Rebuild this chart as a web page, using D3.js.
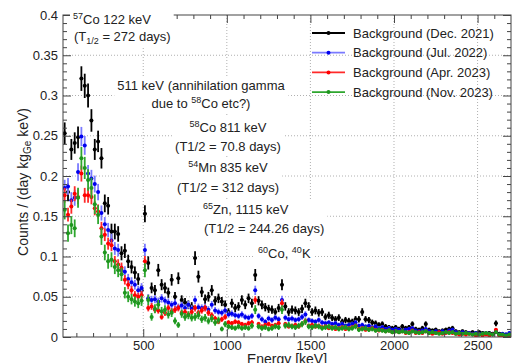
<!DOCTYPE html>
<html>
<head>
<meta charset="utf-8">
<script src="https://cdn.jsdelivr.net/npm/d3@7"></script>
<style>
body { margin: 0; background: #fff; }
text { font-family: "Liberation Sans", Arial, Helvetica, sans-serif; fill: #222; }
</style>
</head>
<body>
<script>
// bin centres, 20 keV wide
var energies = d3.range(30, 2700, 20);

var dec2021 = [
  0.253,0.180,0.233,0.241,0.248,0.321,0.312,0.300,0.269,0.233,
  0.243,0.222,0.166,0.163,0.131,0.131,0.128,0.104,0.107,0.094,
  0.087,0.080,0.072,0.058,0.153,0.092,0.061,0.058,0.083,0.065,
  0.061,0.055,0.071,0.050,0.073,0.046,0.043,0.040,0.038,0.098,
  0.075,0.056,0.047,0.050,0.058,0.045,0.048,0.044,0.040,0.031,
  0.042,0.036,0.038,0.046,0.040,0.048,0.042,0.077,0.045,0.040,
  0.037,0.035,0.034,0.031,0.036,0.065,0.038,0.031,0.034,0.033,
  0.031,0.035,0.042,0.038,0.031,0.033,0.030,0.031,0.025,0.027,
  0.024,0.022,0.024,0.019,0.021,0.020,0.019,0.022,0.022,0.031,
  0.022,0.021,0.018,0.017,0.015,0.016,0.013,0.012,0.011,0.012,
  0.010,0.013,0.011,0.012,0.016,0.010,0.009,0.011,0.016,0.009,
  0.008,0.009,0.007,0.008,0.009,0.010,0.011,0.007,0.006,0.007,
  0.006,0.005,0.006,0.005,0.006,0.005,0.004,0.005,0.004,0.017,
  0.004,0.003,0.003,0.003
];
var jul2022 = [
  0.185,0.187,0.170,0.173,0.205,0.249,0.238,0.203,0.197,0.190,
  0.180,0.154,0.140,0.133,0.120,0.110,0.108,0.083,0.081,0.072,
  0.068,0.065,0.058,0.061,0.108,0.048,0.046,0.047,0.044,0.048,
  0.045,0.043,0.040,0.042,0.037,0.039,0.036,0.040,0.035,0.046,
  0.037,0.036,0.037,0.034,0.040,0.033,0.031,0.030,0.033,0.028,
  0.029,0.027,0.026,0.028,0.025,0.024,0.026,0.058,0.026,0.022,
  0.019,0.023,0.021,0.024,0.022,0.046,0.024,0.022,0.023,0.021,
  0.022,0.025,0.028,0.021,0.020,0.019,0.021,0.018,0.017,0.018,
  0.016,0.017,0.015,0.016,0.014,0.015,0.016,0.018,0.014,0.015,
  0.013,0.014,0.012,0.013,0.011,0.012,0.010,0.011,0.009,0.010,
  0.009,0.008,0.009,0.010,0.011,0.008,0.007,0.008,0.010,0.007,
  0.006,0.007,0.006,0.007,0.006,0.008,0.009,0.006,0.005,0.006,
  0.005,0.005,0.004,0.005,0.004,0.004,0.005,0.004,0.003,0.007,
  0.003,0.004,0.003,0.005
];
var apr2023 = [
  0.176,0.152,0.162,0.178,0.174,0.203,0.176,0.176,0.174,0.160,
  0.156,0.135,0.127,0.116,0.114,0.094,0.090,0.086,0.071,0.065,
  0.058,0.052,0.050,0.052,0.094,0.036,0.038,0.034,0.033,0.025,
  0.030,0.036,0.032,0.034,0.036,0.030,0.031,0.028,0.031,0.036,
  0.030,0.033,0.036,0.030,0.027,0.023,0.019,0.022,0.025,0.018,
  0.017,0.019,0.018,0.016,0.015,0.017,0.018,0.046,0.016,0.013,
  0.015,0.016,0.014,0.015,0.017,0.042,0.016,0.013,0.014,0.015,
  0.013,0.016,0.020,0.014,0.015,0.013,0.014,0.012,0.013,0.011,
  0.012,0.010,0.011,0.012,0.010,0.011,0.012,0.014,0.010,0.011,
  0.009,0.010,0.011,0.009,0.008,0.009,0.007,0.008,0.006,0.007,
  0.006,0.007,0.005,0.006,0.008,0.005,0.006,0.005,0.007,0.005,
  0.004,0.005,0.006,0.004,0.005,0.006,0.005,0.004,0.003,0.004,
  0.003,0.004,0.003,0.002,0.003,0.002,0.003,0.002,0.003,0.009,
  0.002,0.002,0.001,0.002
];
var nov2023 = [
  0.158,0.129,0.139,0.135,0.173,0.222,0.210,0.195,0.185,0.165,
  0.152,0.125,0.105,0.094,0.096,0.087,0.083,0.078,0.055,0.050,
  0.047,0.044,0.042,0.045,0.083,0.046,0.025,0.035,0.040,0.032,
  0.034,0.028,0.030,0.020,0.015,0.029,0.025,0.027,0.024,0.025,
  0.027,0.022,0.024,0.020,0.023,0.018,0.021,0.010,0.016,0.013,
  0.012,0.011,0.013,0.011,0.012,0.011,0.014,0.034,0.013,0.011,
  0.012,0.010,0.011,0.013,0.012,0.034,0.014,0.015,0.013,0.012,
  0.014,0.016,0.019,0.013,0.012,0.014,0.013,0.011,0.012,0.013,
  0.011,0.012,0.010,0.011,0.012,0.010,0.011,0.013,0.009,0.010,
  0.011,0.009,0.010,0.008,0.009,0.008,0.007,0.008,0.006,0.007,
  0.006,0.007,0.006,0.005,0.007,0.006,0.005,0.006,0.007,0.005,
  0.006,0.005,0.004,0.005,0.006,0.005,0.006,0.004,0.005,0.004,
  0.005,0.004,0.003,0.004,0.003,0.004,0.005,0.004,0.003,0.006,
  0.003,0.003,0.002,0.003
];

var seriesNames = ["Background (Dec. 2021)", "Background (Jul. 2022)", "Background (Apr. 2023)", "Background (Nov. 2023)"];
var xTicks = [500, 1000, 1500, 2000, 2500];
var yTicks = [0, 0.05, 0.1, 0.15, 0.2, 0.25, 0.3, 0.35, 0.4];

var series = [
  {name: seriesNames[0], values: dec2021, dot: "#000000", bar: "#000000", k: 0.027},
  {name: seriesNames[1], values: jul2022, dot: "#0000ee", bar: "#7a7aff", k: 0.024},
  {name: seriesNames[2], values: apr2023, dot: "#ff0000", bar: "#ff2a2a", k: 0.022},
  {name: seriesNames[3], values: nov2023, dot: "#1e961e", bar: "#2ea62e", k: 0.030}
];

var width = 522, height = 363;
var pLeft = 63, pRight = 511, pTop = 15, pBottom = 337;

var svg = d3.select("body").append("svg")
    .attr("width", width)
    .attr("height", height);

var x = d3.scaleLinear().domain([20, 2700]).range([pLeft, pRight]);
var y = d3.scaleLinear().domain([0, 0.4]).range([pBottom, pTop]);

// dotted grid
svg.append("g").selectAll("line")
  .data(xTicks).enter().append("line")
  .attr("x1", d => x(d)).attr("x2", d => x(d))
  .attr("y1", pTop).attr("y2", pBottom)
  .attr("stroke", "#b0b0b0").attr("stroke-dasharray", "1,2");
svg.append("g").selectAll("line")
  .data(yTicks.slice(1, -1)).enter().append("line")
  .attr("y1", d => y(d)).attr("y2", d => y(d))
  .attr("x1", pLeft).attr("x2", pRight)
  .attr("stroke", "#b0b0b0").attr("stroke-dasharray", "1,2");

// data points with error bars
svg.append("clipPath").attr("id", "plotclip")
  .append("rect").attr("x", pLeft).attr("y", pTop)
  .attr("width", pRight - pLeft).attr("height", pBottom - pTop);

var dataG = svg.append("g").attr("clip-path", "url(#plotclip)");
series.forEach(function(s) {
  var pts = s.values.map((v, i) => ({e: energies[i], v: v, err: s.k * Math.sqrt(v)}));
  var g = dataG.append("g");
  g.selectAll(".ev").data(pts).enter().append("line")
    .attr("x1", d => x(d.e)).attr("x2", d => x(d.e))
    .attr("y1", d => y(d.v - d.err)).attr("y2", d => y(d.v + d.err))
    .attr("stroke", s.bar).attr("stroke-width", 1.8);
  g.selectAll(".eh").data(pts).enter().append("line")
    .attr("x1", d => x(d.e - 10)).attr("x2", d => x(d.e + 10))
    .attr("y1", d => y(d.v)).attr("y2", d => y(d.v))
    .attr("stroke", s.bar).attr("stroke-width", 1.2);
  g.selectAll("circle").data(pts).enter().append("circle")
    .attr("cx", d => x(d.e)).attr("cy", d => y(d.v))
    .attr("r", 2).attr("fill", s.dot);
});

// axes, ticks pointing inward on all four sides
var fmt = d => String(+d.toFixed(2));
var minorX = d3.range(100, 2700, 100).filter(d => d % 500 != 0);
var minorY = d3.range(1, 40).map(d => d / 100).filter((d, i) => (i + 1) % 5 != 0);

function addAxis(axis, tr) {
  var g = svg.append("g").attr("transform", tr).call(axis);
  g.select(".domain").remove();
  g.selectAll("line").attr("stroke", "#444");
  g.selectAll("text").attr("font-size", 13).attr("fill", "#222")
    .attr("font-family", "'Liberation Sans', Arial, Helvetica, sans-serif");
  return g;
}
addAxis(d3.axisBottom(x).tickValues(xTicks).tickSizeInner(-8).tickSizeOuter(0).tickPadding(4).tickFormat(d3.format("d")), "translate(0," + pBottom + ")");
addAxis(d3.axisBottom(x).tickValues(minorX).tickSizeInner(-4).tickSizeOuter(0).tickFormat(""), "translate(0," + pBottom + ")");
addAxis(d3.axisTop(x).tickValues(xTicks).tickSizeInner(-8).tickSizeOuter(0).tickFormat(""), "translate(0," + pTop + ")");
addAxis(d3.axisTop(x).tickValues(minorX).tickSizeInner(-4).tickSizeOuter(0).tickFormat(""), "translate(0," + pTop + ")");
addAxis(d3.axisLeft(y).tickValues(yTicks).tickSizeInner(-8).tickSizeOuter(0).tickPadding(5).tickFormat(fmt), "translate(" + pLeft + ",0)");
addAxis(d3.axisLeft(y).tickValues(minorY).tickSizeInner(-4).tickSizeOuter(0).tickFormat(""), "translate(" + pLeft + ",0)");
addAxis(d3.axisRight(y).tickValues(yTicks).tickSizeInner(-8).tickSizeOuter(0).tickFormat(""), "translate(" + pRight + ",0)");
addAxis(d3.axisRight(y).tickValues(minorY).tickSizeInner(-4).tickSizeOuter(0).tickFormat(""), "translate(" + pRight + ",0)");

svg.append("rect")
  .attr("x", pLeft).attr("y", pTop)
  .attr("width", pRight - pLeft).attr("height", pBottom - pTop)
  .attr("fill", "none").attr("stroke", "#444").attr("stroke-width", 1);

// axis titles
var yt = svg.append("text")
  .attr("transform", "translate(28,182) rotate(-90)")
  .attr("text-anchor", "middle")
  .attr("font-size", 14);
yt.append("tspan").text("Counts / (day kg");
yt.append("tspan").text("Ge").attr("font-size", 10).attr("dy", 3);
yt.append("tspan").text(" keV)").attr("dy", -3);

svg.append("text")
  .attr("x", (pLeft + pRight) / 2).attr("y", 364)
  .attr("text-anchor", "middle")
  .attr("font-size", 14)
  .text("Energy [keV]");

// annotations on white boxes
function addNote(lines, anchor) {
  var g = svg.append("g");
  var box = g.append("rect").attr("fill", "#fff");
  lines.forEach(function(l) {
    var t = g.append("text").attr("x", l.x).attr("y", l.y)
      .attr("font-size", 13).attr("text-anchor", anchor);
    var shift = 0;
    l.parts.forEach(function(p) {
      var want = p[1] == "sup" ? -5 : (p[1] == "sub" ? 3 : 0);
      var s = t.append("tspan").text(p[0]).attr("dy", want - shift);
      if (want != 0) s.attr("font-size", 9);
      shift = want;
    });
  });
  var b = g.node().getBBox();
  box.attr("x", b.x - 3).attr("y", b.y - 2)
    .attr("width", b.width + 6).attr("height", b.height + 4);
}

addNote([
  {x: 73, y: 24, parts: [["57", "sup"], ["Co 122 keV"]]},
  {x: 74, y: 41, parts: [["(T"], ["1/2", "sub"], [" = 272 days)"]]}
], "start");
addNote([
  {x: 201, y: 90, parts: [["511 keV (annihilation gamma"]]},
  {x: 201, y: 108, parts: [["due to "], ["58", "sup"], ["Co etc?)"]]}
], "middle");
addNote([
  {x: 228, y: 132, parts: [["58", "sup"], ["Co 811 keV"]]},
  {x: 228, y: 151, parts: [["(T1/2 = 70.8 days)"]]}
], "middle");
addNote([
  {x: 228, y: 172, parts: [["54", "sup"], ["Mn 835 keV"]]},
  {x: 228, y: 192, parts: [["(T1/2 = 312 days)"]]}
], "middle");
addNote([
  {x: 203, y: 214, parts: [["65", "sup"], ["Zn, 1115 keV"]]},
  {x: 204, y: 233, parts: [["(T1/2 = 244.26 days)"]]}
], "start");
addNote([
  {x: 258, y: 258, parts: [["60", "sup"], ["Co, "], ["40", "sup"], ["K"]]}
], "start");

// legend (no frame, transparent)
var leg = svg.append("g");
series.forEach(function(s, i) {
  var ly = 33 + i * 19.7;
  leg.append("line").attr("x1", 312).attr("x2", 345).attr("y1", ly).attr("y2", ly)
    .attr("stroke", s.bar).attr("stroke-width", 1.8);
  leg.append("circle").attr("cx", 328.5).attr("cy", ly).attr("r", 2).attr("fill", s.dot);
  leg.append("text").attr("x", 353).attr("y", ly).attr("dy", "0.36em")
    .attr("font-size", 13).text(s.name);
});
</script>
</body>
</html>
